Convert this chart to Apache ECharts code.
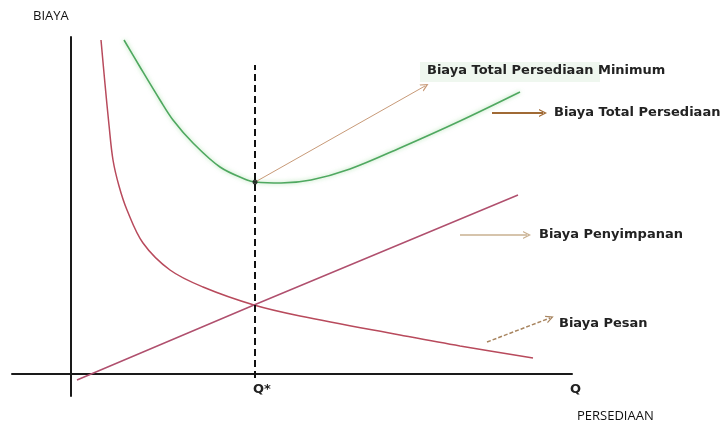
<!DOCTYPE html>
<html>
<head>
<meta charset="utf-8">
<script src="https://cdn.jsdelivr.net/npm/echarts@6/dist/echarts.min.js"></script>
<style>html,body{margin:0;padding:0;background:#fff}#c{width:727px;height:425px}</style>
</head>
<body>
<div id="c"></div>
<script>
// Data (Q, Biaya)
const orderQ    = [30, 34, 38, 42, 48, 56, 72, 99, 132, 183, 229, 329, 389, 462];
const orderCost = [334, 290, 249, 214, 188, 164, 131, 104, 87, 69, 58, 39, 28, 16];
const holdQ     = [6, 183, 447];
const holdCost  = [-6, 69, 179];
const totalQ    = [53, 69, 89, 102, 122, 149, 176, 184, 210, 240, 279, 329, 389, 449];
const totalCost = [334, 307, 274, 254, 231, 207, 194, 192, 191, 194, 205, 226, 253, 282];
const qStar = 184;
const minCost = 192;
const dashTop = 309;
const labels = ["Biaya Total Persediaan Minimum", "Biaya Total Persediaan", "Biaya Penyimpanan", "Biaya Pesan"];
const axisNames = ["BIAYA", "PERSEDIAAN", "Q", "Q*"];
// arrows: [fromQ, fromCost, toQ, toCost]
const arrowMin   = [186, 193, 354, 288];
const arrowTotal = [421, 261, 472, 261];
const arrowHold  = [389, 139, 456, 139];
const arrowOrder = [416, 32, 479, 56];

const zip = (a, b) => a.map((v, i) => [v, b[i]]);
const chev = 'path://M0,10 L5,0 L10,10 L8.4,10 L5,3.4 L1.6,10 Z';
function arrow(a, color, width, type) {
  return {
    type: 'line', data: [], silent: true,
    markLine: {
      silent: true, symbol: ['none', chev], symbolSize: [8, 8],
      label: {show: false},
      lineStyle: {color: color, width: width, type: type},
      data: [[{coord: [a[0], a[1]]}, {coord: [a[2], a[3]]}]]
    }
  };
}

const chart = echarts.init(document.getElementById('c'));
chart.setOption({
  animation: false,
  backgroundColor: '#fff',
  grid: {left: 12, right: 155, top: 37, bottom: 29},
  xAxis: {type: 'value', min: -59, max: 501,
    axisLine: {onZero: true, lineStyle: {color: '#1a1a1a', width: 2}},
    axisTick: {show: false}, axisLabel: {show: false}, splitLine: {show: false}},
  yAxis: {type: 'value', min: -22, max: 337,
    axisLine: {show: true, onZero: true, lineStyle: {color: '#1a1a1a', width: 2}},
    axisTick: {show: false}, axisLabel: {show: false}, splitLine: {show: false}},
  graphic: [
    {type: 'rect', shape: {x: 420, y: 62, width: 180, height: 20}, style: {fill: 'rgba(210,232,210,0.35)'}, z: 0},
    {type: 'text', left: 33, top: 10, style: {text: axisNames[0], font: '13px "Open Sans"', fill: '#111'}},
    {type: 'text', left: 577, top: 410, style: {text: axisNames[1], font: '13px "Open Sans"', fill: '#111'}},
    {type: 'text', left: 570, top: 383, style: {text: axisNames[2], font: 'bold 13px "DejaVu Sans"', fill: '#222'}},
    {type: 'text', left: 253, top: 383, style: {text: axisNames[3], font: 'bold 13px "DejaVu Sans"', fill: '#222'}},
    {type: 'text', left: 427, top: 64, style: {text: labels[0], font: 'bold 13px "DejaVu Sans"', fill: '#222'}},
    {type: 'text', left: 554, top: 106, style: {text: labels[1], font: 'bold 13px "DejaVu Sans"', fill: '#222'}},
    {type: 'text', left: 539, top: 228, style: {text: labels[2], font: 'bold 13px "DejaVu Sans"', fill: '#222'}},
    {type: 'text', left: 559, top: 317, style: {text: labels[3], font: 'bold 13px "DejaVu Sans"', fill: '#222'}}
  ],
  series: [
    {type: 'line', data: zip(orderQ, orderCost), smooth: 0.35, showSymbol: false,
      lineStyle: {color: '#b84a5c', width: 1.5}},
    {type: 'line', data: zip(holdQ, holdCost), showSymbol: false,
      lineStyle: {color: '#b0506e', width: 1.5}},
    {type: 'line', data: zip(totalQ, totalCost), smooth: 0.35, showSymbol: false,
      lineStyle: {color: '#4fa860', width: 1.6, shadowColor: 'rgba(110,200,110,0.6)', shadowBlur: 4}},
    {type: 'line', data: [[qStar, -4], [qStar, dashTop]], showSymbol: false,
      lineStyle: {color: '#111', width: 2, type: [7, 4]}},
    {type: 'scatter', data: [[qStar, minCost]], symbolSize: 5, itemStyle: {color: '#111'}, z: 5},
    arrow(arrowMin, '#c89a78', 1, 'solid'),
    arrow(arrowTotal, '#a06a35', 2, 'solid'),
    arrow(arrowHold, '#c9b090', 1.5, 'solid'),
    arrow(arrowOrder, '#a88560', 1.5, [4, 2])
  ]
});
</script>
</body>
</html>
